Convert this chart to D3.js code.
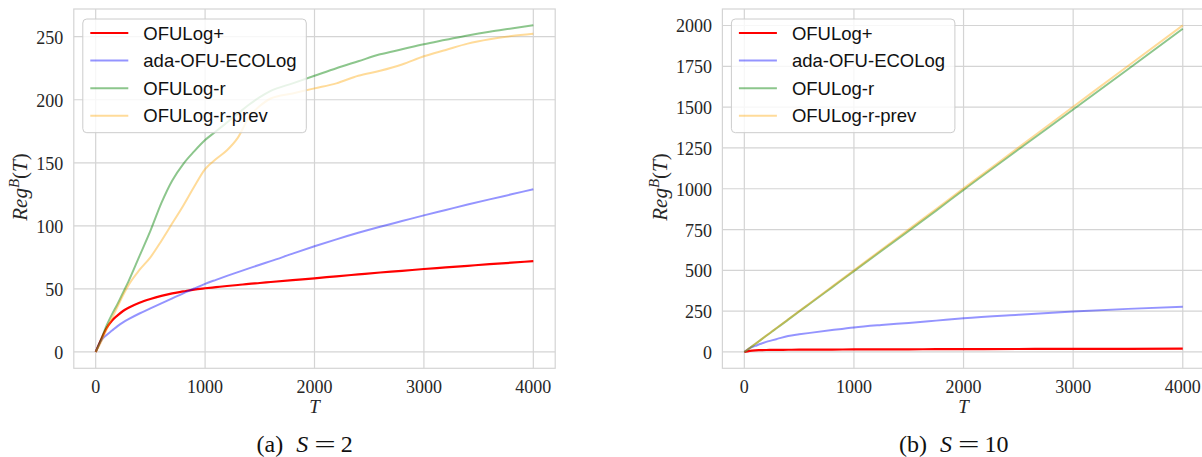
<!DOCTYPE html>
<html>
<head>
<meta charset="utf-8">
<script src="https://cdn.jsdelivr.net/npm/d3@7"></script>
<style>
    body { margin: 0; background: #fff; }
    svg { display: block; }
</style>
</head>
<body>
<div id="chart"></div>
<script>
    // Data
    const seriesNames = ["OFULog+", "ada-OFU-ECOLog", "OFULog-r", "OFULog-r-prev"];
    const xTicks = [0, 1000, 2000, 3000, 4000];

    // (a) S = 2
    const tS2 = [0, 50, 100, 150, 200, 250, 300, 400, 500, 600, 700, 800, 900, 1000, 1100, 1200, 1300, 1400, 1500, 1600, 1800, 2000, 2200, 2400, 2600, 2800, 3000, 3200, 3400, 3600, 3800, 4000];
    const ofulogPlusS2 = [0, 10, 19, 25, 29, 32.5, 35, 39, 42, 44.5, 46.5, 48, 49.5, 50.5, 51.4, 52.3, 53.1, 54, 54.7, 55.5, 57, 58.4, 60, 61.5, 63, 64.3, 65.8, 67, 68.3, 69.6, 70.8, 72];
    const adaEcologS2 = [0, 9, 13.5, 17, 20.5, 23.5, 26, 30.5, 34.5, 38.5, 42.5, 46.5, 50.3, 54, 57.2, 60.3, 63.3, 66.3, 69.2, 72, 78, 83.8, 89.3, 94.5, 99.3, 103.8, 108.3, 112.6, 116.9, 121, 125, 129];
    const ofulogRS2 = [0, 10, 21, 30, 38, 47, 56, 76, 96, 118, 136, 149, 159, 168, 175, 182, 189, 196, 202, 207, 213, 219, 225, 230.5, 236, 240, 244, 247.5, 251, 254, 256.5, 259];
    const ofulogRPrevS2 = [0, 8, 18, 27, 36, 45, 53, 65, 75, 88, 102, 116, 131, 145, 153, 160, 170, 186, 195, 201, 205, 209, 213, 219, 223, 228, 234.5, 239.5, 244.5, 248, 250.5, 252.3];
    const yTicksS2 = [0, 50, 100, 150, 200, 250];

    // (b) S = 10
    const tS10 = [0, 50, 100, 150, 200, 250, 300, 400, 500, 600, 800, 1000, 1250, 1500, 1750, 2000, 2500, 3000, 3500, 4000];
    const ofulogPlusS10 = [0, 7, 10, 11, 12, 12.5, 13, 13.5, 14, 14.3, 14.8, 15.5, 16, 16.5, 17, 17.5, 18.3, 19, 19.5, 20];
    const adaEcologS10 = [0, 24, 37, 50, 62, 71, 80, 98, 108, 117, 134, 150, 165, 178, 192, 206, 228, 248, 264, 277];
    const ofulogRS10 = [0, 24, 49, 74, 99, 124, 148, 198, 248, 297, 396, 495, 619, 742, 866, 993, 1240, 1485, 1732, 1980];
    const ofulogRPrevS10 = [0, 25, 50, 75, 100, 125, 150, 200, 250, 300, 400, 500, 626, 751, 876, 1002, 1252, 1502, 1752, 2001];
    const yTicksS10 = [0, 250, 500, 750, 1000, 1250, 1500, 1750, 2000];

    const colors = ["red", "blue", "green", "orange"];
    const opacities = [1, 0.42, 0.45, 0.4];

    const W = 1202, H = 457;
    const textColor = "#262626";
    const gridColor = "#d4d4d4";
    const serif = "'Liberation Serif', 'Times New Roman', serif";
    const sans = "'Liberation Sans', Arial, sans-serif";

    const svg = d3.select("#chart").append("svg")
        .attr("width", W)
        .attr("height", H);

    function drawPanel(cfg) {
        const x = d3.scaleLinear().domain([-200, 4200]).range([cfg.left, cfg.right]);
        const ymax = d3.max(cfg.series, s => d3.max(s));
        const pad = ymax * 0.05;
        const y = d3.scaleLinear().domain([-pad, ymax + pad]).range([368.3, 9]);

        const g = svg.append("g");

        // frame
        g.append("rect")
            .attr("x", cfg.left)
            .attr("y", 9)
            .attr("width", cfg.right - cfg.left)
            .attr("height", 359.3)
            .attr("fill", "none")
            .attr("stroke", gridColor)
            .attr("stroke-width", 1.2);

        // grid
        g.selectAll(".vgrid")
            .data(xTicks)
            .join("line")
            .attr("x1", d => x(d)).attr("x2", d => x(d))
            .attr("y1", 9).attr("y2", 368.3)
            .attr("stroke", gridColor)
            .attr("stroke-width", 1.2);

        g.selectAll(".hgrid")
            .data(cfg.yTicks)
            .join("line")
            .attr("x1", cfg.left).attr("x2", cfg.right)
            .attr("y1", d => y(d)).attr("y2", d => y(d))
            .attr("stroke", gridColor)
            .attr("stroke-width", 1.2);

        // tick labels
        g.selectAll(".xt")
            .data(xTicks)
            .join("text")
            .attr("x", d => x(d))
            .attr("y", 392.7)
            .attr("text-anchor", "middle")
            .style("font-family", serif)
            .style("font-size", "18px")
            .attr("fill", textColor)
            .text(d => d);

        g.selectAll(".yt")
            .data(cfg.yTicks)
            .join("text")
            .attr("x", cfg.left - 10.5)
            .attr("y", d => y(d) + 7)
            .attr("text-anchor", "end")
            .style("font-family", serif)
            .style("font-size", "18px")
            .attr("fill", textColor)
            .text(d => d);

        // lines
        const line = d3.line()
            .x(d => x(d[0]))
            .y(d => y(d[1]))
            .curve(d3.curveMonotoneX);

        cfg.series.forEach((s, i) => {
            g.append("path")
                .datum(cfg.t.map((t, j) => [t, s[j]]))
                .attr("d", line)
                .attr("fill", "none")
                .attr("stroke", colors[i])
                .attr("stroke-opacity", opacities[i])
                .attr("stroke-width", i === 0 ? 2.2 : 2)
                .attr("stroke-linejoin", "round");
        });

        // axis titles
        g.append("text")
            .attr("x", (cfg.left + cfg.right) / 2)
            .attr("y", 413.3)
            .attr("text-anchor", "middle")
            .style("font-family", serif)
            .style("font-size", "19px")
            .style("font-style", "italic")
            .attr("fill", textColor)
            .text("T");

        const yl = g.append("text")
            .attr("transform", "translate(" + cfg.ylabelX + ",187) rotate(-90)")
            .attr("text-anchor", "middle")
            .style("font-family", serif)
            .style("font-size", "21px")
            .attr("fill", textColor);
        yl.append("tspan").style("font-style", "italic").text("Reg");
        yl.append("tspan").attr("dy", -8).style("font-size", "15px").style("font-style", "italic").text("B");
        yl.append("tspan").attr("dy", 8).text("(");
        yl.append("tspan").style("font-style", "italic").text("T");
        yl.append("tspan").text(")");

        // legend
        const lx = cfg.left + 9, ly = 19;
        const lg = g.append("g").attr("transform", "translate(" + lx + "," + ly + ")");
        lg.append("rect")
            .attr("width", 223.5)
            .attr("height", 113.7)
            .attr("rx", 4)
            .attr("fill", "white")
            .attr("fill-opacity", 0.8)
            .attr("stroke", "#cccccc")
            .attr("stroke-width", 1);

        seriesNames.forEach((name, i) => {
            const cy = 14 + i * 27.6;
            lg.append("line")
                .attr("x1", 7.5).attr("x2", 45.5)
                .attr("y1", cy).attr("y2", cy)
                .attr("stroke", colors[i])
                .attr("stroke-opacity", opacities[i])
                .attr("stroke-width", 2);
            lg.append("text")
                .attr("x", 60.5)
                .attr("y", cy + 6.5)
                .style("font-family", sans)
                .style("font-size", "18.5px")
                .attr("fill", "#111")
                .text(name);
        });

        // caption
        const cap = svg.append("text")
            .attr("x", cfg.capX)
            .attr("y", 451.5)
            .style("font-family", serif)
            .style("font-size", "24px")
            .attr("fill", "#111");
        cap.append("tspan").text(cfg.capTag);
        cap.append("tspan").attr("dx", 13).style("font-style", "italic").text("S");
        cap.append("tspan").attr("dx", 6)
            .attr("textLength", 21.5).attr("lengthAdjust", "spacingAndGlyphs").text("=");
        cap.append("tspan").attr("dx", 5).text(cfg.capVal);
    }

    drawPanel({
        left: 73.8, right: 555.2,
        t: tS2,
        series: [ofulogPlusS2, adaEcologS2, ofulogRS2, ofulogRPrevS2],
        yTicks: yTicksS2,
        ylabelX: 27,
        capX: 256.5, capTag: "(a)", capVal: "2"
    });

    drawPanel({
        left: 722.4, right: 1204.7,
        t: tS10,
        series: [ofulogPlusS10, adaEcologS10, ofulogRS10, ofulogRPrevS10],
        yTicks: yTicksS10,
        ylabelX: 666.5,
        capX: 899, capTag: "(b)", capVal: "10"
    });
</script>
</body>
</html>
